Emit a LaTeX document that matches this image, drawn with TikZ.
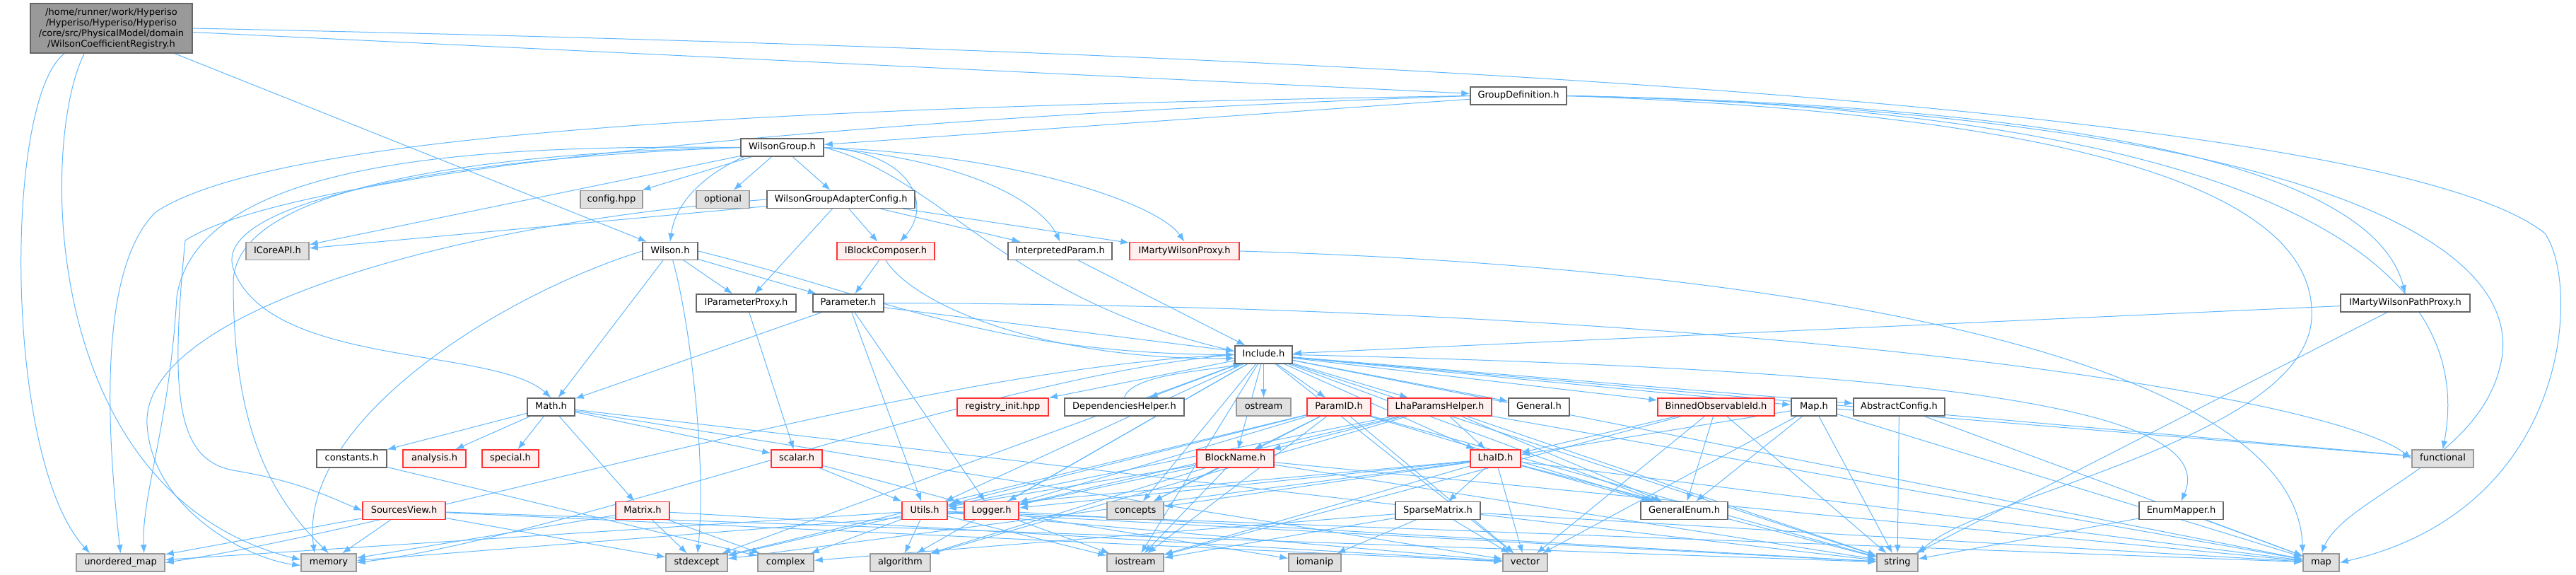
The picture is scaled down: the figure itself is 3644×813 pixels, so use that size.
\documentclass[tikz,border=0pt]{standalone}
\usepackage{fontspec}
\setmainfont{DejaVu Sans}
\usetikzlibrary{arrows.meta}
\definecolor{edgec}{HTML}{63B8FF}
\definecolor{redfill}{HTML}{FFF0F0}
\definecolor{sysfill}{HTML}{E0E0E0}
\definecolor{sysdraw}{HTML}{999999}
\definecolor{hdrdraw}{HTML}{666666}
\definecolor{rootfill}{HTML}{999999}
\definecolor{redline}{HTML}{FF3333}
\pgfdeclarelayer{bg}
\pgfsetlayers{bg,main}
\tikzset{
 nbase/.style={rectangle, minimum height=25pt, inner sep=2pt, font=\fontsize{13pt}{15pt}\selectfont, line width=1.4pt, text height=9.5pt, text depth=2.8pt},
 hdr/.style={nbase, draw=hdrdraw, fill=white},
 redn/.style={nbase, draw=redline, fill=redfill},
 sysn/.style={nbase, draw=sysdraw, fill=sysfill},
 rootn/.style={rectangle, inner sep=2pt, font=\fontsize{13pt}{15pt}\selectfont, line width=1.4pt, draw=hdrdraw, fill=rootfill, align=center},
 edg/.style={draw=edgec, line width=1pt, -{Latex[length=12pt,width=9pt]}},
}
\begin{document}
\begin{tikzpicture}[x=1pt,y=-1pt]
\useasboundingbox (0,0) rectangle (3644,813);
% nodes
\node[rootn, minimum width=229pt, minimum height=70pt] (root) at (157.5,40) {/home/runner/work/Hyperiso\\/Hyperiso/Hyperiso/Hyperiso\\/core/src/PhysicalModel/domain\\/WilsonCoefficientRegistry.h};
\node[hdr, minimum width=136pt] (gd) at (2148,135.5) {GroupDefinition.h};
\node[hdr, minimum width=117pt] (wg) at (1106.5,208.5) {WilsonGroup.h};
\node[sysn, minimum width=88pt] (cfg) at (865,282) {config.hpp};
\node[sysn, minimum width=75pt] (opt) at (1022.5,282) {optional};
\node[hdr, minimum width=209pt] (wgac) at (1189.5,282) {WilsonGroupAdapterConfig.h};
\node[sysn, minimum width=89pt] (icore) at (392.5,355) {ICoreAPI.h};
\node[hdr, minimum width=78pt] (wil) at (948,355) {Wilson.h};
\node[redn, minimum width=138pt] (ibc) at (1253,355) {IBlockComposer.h};
\node[hdr, minimum width=147pt] (ip) at (1499.5,355) {InterpretedParam.h};
\node[redn, minimum width=155pt] (imwp) at (1675.5,355) {IMartyWilsonProxy.h};
\node[hdr, minimum width=141pt] (ipp) at (1055.5,428.5) {IParameterProxy.h};
\node[hdr, minimum width=100pt] (par) at (1200,428.5) {Parameter.h};
\node[hdr, minimum width=183pt] (imwpp) at (3402.5,428.5) {IMartyWilsonPathProxy.h};
\node[hdr, minimum width=81pt] (inc) at (1787.5,501.5) {Include.h};
\node[hdr, minimum width=67pt] (math) at (779.5,575.5) {Math.h};
\node[redn, minimum width=129pt] (reg) at (1418.5,575.5) {registry\_init.hpp};
\node[hdr, minimum width=169pt] (dh) at (1590.5,575.5) {DependenciesHelper.h};
\node[sysn, minimum width=77pt] (ost) at (1787.5,575.5) {ostream};
\node[redn, minimum width=90pt] (pid) at (1894,575.5) {ParamID.h};
\node[redn, minimum width=147pt] (lph) at (2036.5,575.5) {LhaParamsHelper.h};
\node[hdr, minimum width=86pt] (gen) at (2177,575.5) {General.h};
\node[redn, minimum width=165pt] (boi) at (2427.5,575.5) {BinnedObservableId.h};
\node[hdr, minimum width=64pt] (mapH) at (2566,575.5) {Map.h};
\node[hdr, minimum width=129pt] (ac) at (2686.5,575.5) {AbstractConfig.h};
\node[hdr, minimum width=99pt] (const) at (497.5,648.5) {constants.h};
\node[redn, minimum width=89pt] (ana) at (614.5,648.5) {analysis.h};
\node[redn, minimum width=80pt] (spec) at (722,648.5) {special.h};
\node[redn, minimum width=72pt] (scal) at (1127,648.5) {scalar.h};
\node[redn, minimum width=109pt] (bn) at (1747.5,648.5) {BlockName.h};
\node[redn, minimum width=71pt] (lid) at (2115.5,648.5) {LhaID.h};
\node[sysn, minimum width=87pt] (func) at (3455.5,648.5) {functional};
\node[redn, minimum width=117pt] (sv) at (571.5,722) {SourcesView.h};
\node[redn, minimum width=76pt] (mat) at (909,722) {Matrix.h};
\node[redn, minimum width=64pt] (ut) at (1308,722) {Utils.h};
\node[redn, minimum width=77pt] (log) at (1402.5,722) {Logger.h};
\node[sysn, minimum width=80pt] (conc) at (1606,722) {concepts};
\node[hdr, minimum width=120pt] (sm) at (2034,722) {SparseMatrix.h};
\node[hdr, minimum width=123pt] (ge) at (2382.5,722) {GeneralEnum.h};
\node[hdr, minimum width=119pt] (em) at (3085.5,722) {EnumMapper.h};
\node[sysn, minimum width=125pt] (uo) at (170.5,795.5) {unordered\_map};
\node[sysn, minimum width=78pt] (mem) at (465,795.5) {memory};
\node[sysn, minimum width=87pt] (stdx) at (985.5,795.5) {stdexcept};
\node[sysn, minimum width=79pt] (cplx) at (1111.5,795.5) {complex};
\node[sysn, minimum width=85pt] (alg) at (1273.5,795.5) {algorithm};
\node[sysn, minimum width=80pt] (ios) at (1606,795.5) {iostream};
\node[sysn, minimum width=74pt] (iom) at (1860,795.5) {iomanip};
\node[sysn, minimum width=63pt] (vec) at (2157.5,795.5) {vector};
\node[sysn, minimum width=58pt] (str) at (2684,795.5) {string};
\node[sysn, minimum width=51pt] (map) at (3283.5,795.5) {map};
\begin{pgfonlayer}{bg}
% root
\draw[edg] (root) -- (gd);
\draw[edg] (root) -- (wil);
\draw[edg] ([xshift=49pt]root.south west) .. controls (5,140) and (5,650) .. ([xshift=20pt]uo.north west);
\draw[edg] ([xshift=77pt]root.south west) .. controls (56,200) and (56,700) .. ([yshift=4pt]mem.west);
\draw[edg] (root.east) .. controls (2200,80) and (3400,170) .. (3600,330) .. controls (3650,400) and (3640,720) .. (map.east);
% GroupDefinition
\draw[edg] (gd) -- (wg);
\draw[edg] (gd.east) .. controls (3000,150) and (3360,250) .. (imwpp.north);
\draw[edg] (gd.east) .. controls (3000,150) and (3520,300) .. (func.north);
\draw[edg] (gd.east) .. controls (3100,155) and (3560,300) .. (3540,500) .. controls (3520,650) and (3320,700) .. (map.north);
\draw[edg] (gd.east) .. controls (2900,160) and (3280,260) .. (3270,450) .. controls (3260,620) and (2800,700) .. (str.north east);
\draw[edg] (gd.west) .. controls (1200,150) and (400,180) .. (220,300) .. controls (140,380) and (150,600) .. (uo.north);
\draw[edg] (gd.west) .. controls (1100,170) and (400,250) .. (262,340) .. controls (240,560) and (250,650) .. (330,665) .. controls (420,680) and (460,700) .. (sv.west);
% WilsonGroup
\draw[edg] (wg) -- (cfg);
\draw[edg] (wg) -- (opt);
\draw[edg] (wg) -- (wgac);
\draw[edg] (wg) -- (icore);
\draw[edg] ([xshift=5pt]wg.south west) .. controls (990,250) and (955,290) .. (wil.north);
\draw[edg] (wg.east) .. controls (1290,215) and (1320,290) .. ([xshift=20pt]ibc.north);
\draw[edg] (wg.east) .. controls (1400,230) and (1480,300) .. (ip.north);
\draw[edg] (wg.east) .. controls (1450,220) and (1640,290) .. (imwp.north);
\draw[edg] (wg.east) .. controls (1330,250) and (1420,420) .. ([yshift=5pt]inc.west);
\draw[edg] (wg.west) .. controls (700,205) and (280,220) .. (250,420) .. controls (240,600) and (200,700) .. ([xshift=-30pt]uo.north east);
\draw[edg] (wg.west) .. controls (700,215) and (330,260) .. (330,400) .. controls (330,600) and (380,700) .. (mem.north);
\draw[edg] (wg.west) .. controls (600,225) and (300,290) .. (330,380) .. controls (380,520) and (700,490) .. (math.north);
% WilsonGroupAdapterConfig
\draw[edg] (wgac) -- (icore);
\draw[edg] (wgac) -- (ipp);
\draw[edg] (wgac) -- (ibc);
\draw[edg] (wgac) -- (ip);
\draw[edg] (wgac) -- (imwp);
\draw[edg] (wgac.west) .. controls (600,320) and (200,450) .. (208,600) .. controls (215,720) and (350,790) .. ([yshift=-4pt]mem.west);
% Wilson
\draw[edg] (wil) -- (math);
\draw[edg] (wil) -- (ipp);
\draw[edg] (wil) -- (par);
\draw[edg] (wil.east) .. controls (1250,420) and (1400,500) .. (inc.west);
\draw[edg] (wil.west) .. controls (700,420) and (420,600) .. ([xshift=-20pt]mem.north);
\draw[edg] (wil) .. controls (975,450) and (1000,650) .. (stdx);
% IBlockComposer
\draw[edg] (ibc) -- (par);
\draw[edg] (ibc.south) .. controls (1300,440) and (1500,510) .. ([yshift=-5pt]inc.west);
% InterpretedParam
\draw[edg] (ip) -- (inc);
% IMartyWilsonProxy
\draw[edg] (imwp.east) .. controls (2600,380) and (3250,520) .. (map.north west);
% IParameterProxy
\draw[edg] (ipp) -- (scal);
% Parameter
\draw[edg] (par) -- (math);
\draw[edg] (par) -- (inc);
\draw[edg] (par) -- (log);
\draw[edg] (par) -- (ut);
\draw[edg] (par.east) .. controls (2500,432) and (3300,560) .. (func.west);
% IMartyWilsonPathProxy
\draw[edg] (imwpp) -- (inc);
\draw[edg] (imwpp) -- (str);
% Math
\draw[edg] (math) -- (const);
\draw[edg] (math) -- (ana);
\draw[edg] (math) -- (spec);
\draw[edg] (math) -- (mat);
\draw[edg] (math) -- (scal);
\draw[edg] (math) -- (vec);
\draw[edg] (math) -- (str);
% constants
\draw[edg] (const) -- (cplx);
% SourcesView
\draw[edg] (sv) -- (uo);
\draw[edg] (sv) -- (mem);
\draw[edg] (sv) -- (stdx);
\draw[edg] (sv) -- (vec);
\draw[edg] (sv) -- (str);
% Matrix
\draw[edg] (mat) -- (mem);
\draw[edg] (mat) -- (stdx);
\draw[edg] (mat) -- (vec);
\draw[edg] (mat) -- (cplx);
% scalar
\draw[edg] (scal) -- (ut);
\draw[edg] (scal) -- (log);
% Utils
\draw[edg] (ut) -- (stdx);
\draw[edg] (ut) -- (cplx);
\draw[edg] (ut) -- (alg);
\draw[edg] (ut) -- (ios);
\draw[edg] (ut) -- (vec);
\draw[edg] (ut) -- (str);
\draw[edg] (ut) -- (map);
\draw[edg] (ut) -- (uo);
% Logger
\draw[edg] (log) -- (ios);
\draw[edg] (log) -- (iom);
\draw[edg] (log) -- (str);
\draw[edg] (log) -- (mem);
% BlockName
\draw[edg] (bn) -- (ut);
\draw[edg] (bn) -- (log);
\draw[edg] (bn) -- (conc);
\draw[edg] (bn) -- (ios);
\draw[edg] (bn) -- (str);
\draw[edg] (bn) -- (map);
\draw[edg] (bn) -- (alg);
% ParamID
\draw[edg] (pid) -- (bn);
\draw[edg] (pid) -- (ut);
\draw[edg] (pid) -- (log);
\draw[edg] (pid) -- (conc);
\draw[edg] (pid) -- (ios);
\draw[edg] (pid) -- (str);
\draw[edg] (pid) -- (vec);
\draw[edg] (pid) -- (ge);
\draw[edg] (pid) -- (stdx);
% LhaParamsHelper
\draw[edg] (lph) -- (bn);
\draw[edg] (lph) -- (lid);
\draw[edg] (lph) -- (ut);
\draw[edg] (lph) -- (log);
\draw[edg] (lph) -- (ge);
\draw[edg] (lph) -- (str);
\draw[edg] (lph) -- (map);
\draw[edg] (lph) -- (alg);
% LhaID
\draw[edg] (lid) -- (ut);
\draw[edg] (lid) -- (log);
\draw[edg] (lid) -- (conc);
\draw[edg] (lid) -- (sm);
\draw[edg] (lid) -- (ge);
\draw[edg] (lid) -- (vec);
\draw[edg] (lid) -- (str);
\draw[edg] (lid) -- (map);
\draw[edg] (lid) -- (ios);
\draw[edg] (lid) -- (stdx);
% SparseMatrix
\draw[edg] (sm) -- (vec);
\draw[edg] (sm) -- (ios);
\draw[edg] (sm) -- (map);
\draw[edg] (sm) -- (iom);
\draw[edg] (sm) -- (cplx);
% BinnedObservableId
\draw[edg] (boi) -- (lid);
\draw[edg] (boi) -- (vec);
\draw[edg] (boi) -- (str);
\draw[edg] (boi) -- (ios);
\draw[edg] (boi) -- (ge);
% Map
\draw[edg] (mapH) -- (lid);
\draw[edg] (mapH) -- (ge);
\draw[edg] (mapH) -- (vec);
\draw[edg] (mapH) -- (str);
\draw[edg] (mapH) -- (map);
\draw[edg] (mapH) -- (func);
% AbstractConfig
\draw[edg] (ac) -- (str);
\draw[edg] (ac) -- (map);
% EnumMapper
\draw[edg] (em) -- (map);
\draw[edg] (em) -- (str);
% Include
\draw[edg] (inc) -- (reg);
\draw[edg] (inc) -- (dh);
\draw[edg] (inc) -- (ost);
\draw[edg] (inc) -- (pid);
\draw[edg] (inc) -- (lph);
\draw[edg] (inc) -- (gen);
\draw[edg] (inc) -- (boi);
\draw[edg] (inc) -- (mapH);
\draw[edg] (inc) -- (ac);
\draw[edg] (inc.east) .. controls (2600,520) and (3150,560) .. (em.north);
\draw[edg] (inc) -- (bn);
\draw[edg] (inc) -- (lid);
\draw[edg] (inc) -- (ut);
\draw[edg] (inc) -- (log);
\draw[edg] (inc) -- (conc);
\draw[edg] (inc) -- (ge);
\draw[edg] (inc) -- (str);
\draw[edg] (inc) -- (vec);
\draw[edg] (inc) -- (map);
\draw[edg] (inc) -- (func);
\draw[edg] (inc.west) .. controls (1300,520) and (600,740) .. (uo.east);
\draw[edg] (inc.west) .. controls (1400,530) and (800,760) .. (mem.east);
\draw[edg] (inc) -- (ios);
\draw[edg] (inc) -- (alg);
\draw[edg] (inc) -- (stdx);
% DependenciesHelper
\draw[edg] (dh.north) .. controls (1600,530) and (1700,525) .. ([xshift=10pt]inc.south west);
\end{pgfonlayer}
\end{tikzpicture}
\end{document}
